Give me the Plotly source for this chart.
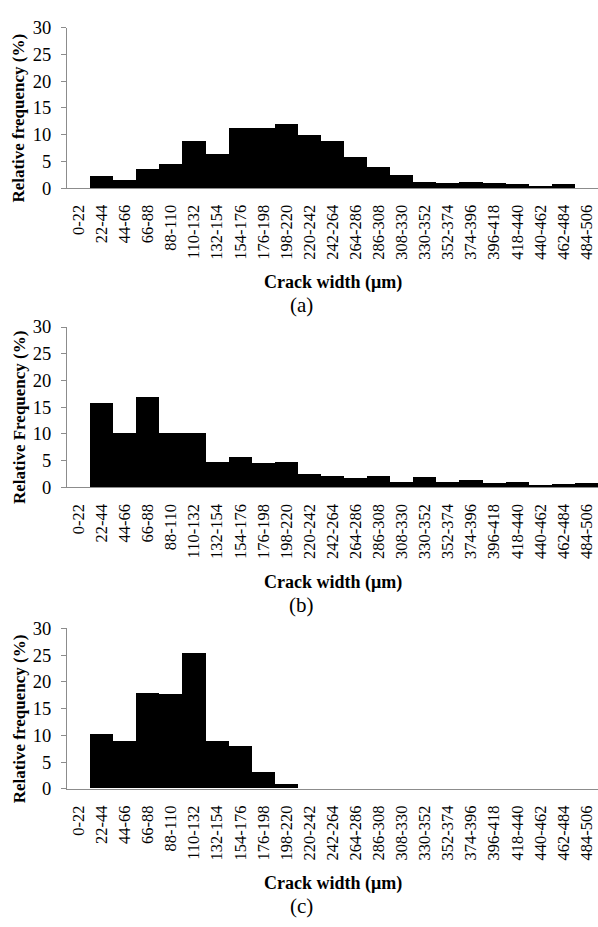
import plotly.graph_objects as go

categories = ["0-22", "22-44", "44-66", "66-88", "88-110", "110-132", "132-154",
              "154-176", "176-198", "198-220", "220-242", "242-264", "264-286",
              "286-308", "308-330", "330-352", "352-374", "374-396", "396-418",
              "418-440", "440-462", "462-484", "484-506"]

freq_a = [0, 2.4, 1.5, 3.7, 4.5, 8.8, 6.4, 11.3, 11.3, 12.1, 10.0, 8.8, 5.9,
          4.0, 2.5, 1.3, 1.1, 1.2, 1.0, 0.8, 0.4, 0.8, 0]
freq_b = [0, 15.8, 10.1, 17.0, 10.1, 10.1, 4.7, 5.7, 4.5, 4.8, 2.6, 2.1, 1.8,
          2.2, 1.1, 1.9, 1.0, 1.4, 0.8, 1.0, 0.5, 0.6, 0.9]
freq_c = [0, 10.2, 8.8, 17.8, 17.6, 25.3, 8.8, 8.0, 3.1, 0.8, 0, 0, 0,
          0, 0, 0, 0, 0, 0, 0, 0, 0, 0]

y_titles = ["Relative frequency (%)", "Relative Frequency (%)", "Relative frequency (%)"]
x_title = "Crack width (\u03bcm)"
captions = ["(a)", "(b)", "(c)"]
y_ticks = [0, 5, 10, 15, 20, 25, 30]

W, H = 598, 927
FONT = "'Liberation Serif', 'Times New Roman', serif"
series = [freq_a, freq_b, freq_c]
# pixel geometry of each panel (top, bottom of plot area)
panels = [(18, 182), (324, 488), (632, 796)]
x_left = 67

def py(p):
    return 1 - p / H

fig = go.Figure()
annotations = []
for i, (vals, (top, bot)) in enumerate(zip(series, panels)):
    n = "" if i == 0 else str(i + 1)
    fig.add_trace(go.Bar(
        x=categories, y=vals, xaxis="x" + n, yaxis="y" + n,
        marker=dict(color="black", line=dict(width=0)),
        showlegend=False, hoverinfo="x+y"))
    fig.update_layout(**{
        "xaxis" + n: dict(
            domain=[x_left / W, 1], anchor="y" + n, type="category",
            categoryorder="array", categoryarray=categories,
            range=[-0.5, len(categories) - 0.5],
            tickangle=-90, ticks="", showline=True, linecolor="#8c8c8c",
            linewidth=1, showgrid=False, zeroline=False,
            tickfont=dict(family=FONT, size=16.5, color="black"),
            ticklabelstandoff=9, fixedrange=True),
        "yaxis" + n: dict(
            domain=[py(bot), py(top)], anchor="x" + n, range=[0, 30],
            tickvals=y_ticks, ticks="outside", ticklen=5, tickcolor="#8c8c8c",
            showline=True, linecolor="#8c8c8c", linewidth=1,
            showgrid=False, zeroline=False, ticklabelstandoff=6,
            tickfont=dict(family=FONT, size=18.5, color="black"), fixedrange=True),
    })
    annotations.append(dict(
        text="<b>" + y_titles[i] + "</b>", textangle=-90, xref="paper", yref="paper",
        x=19 / W, y=py((top + bot) / 2 + 11), xanchor="center", yanchor="middle",
        showarrow=False, font=dict(family=FONT, size=17, color="black")))
    annotations.append(dict(
        text="<b>" + x_title + "</b>", xref="paper", yref="paper",
        x=(x_left + W) / 2 / W, y=py(bot + 97), xanchor="center", yanchor="middle",
        showarrow=False, font=dict(family=FONT, size=18, color="black")))
    annotations.append(dict(
        text=captions[i], xref="paper", yref="paper",
        x=0.505, y=py(bot + 120), xanchor="center", yanchor="middle",
        showarrow=False, font=dict(family=FONT, size=21, color="black")))

fig.update_layout(
    width=W, height=H, margin=dict(l=0, r=0, t=0, b=0),
    paper_bgcolor="white", plot_bgcolor="white", bargap=0,
    annotations=annotations, font=dict(family=FONT))

fig.write_html("out.html")
